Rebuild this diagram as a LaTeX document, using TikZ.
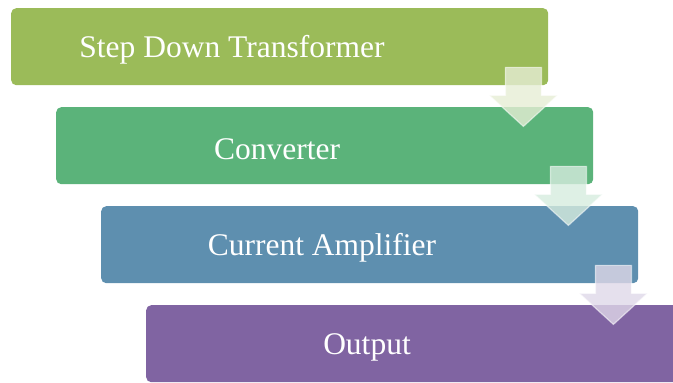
\documentclass[tikz,border=0pt]{standalone}
\usepackage{fontspec}
\setmainfont{Liberation Serif}
\usetikzlibrary{calc}
\definecolor{stepA}{HTML}{9BBB59}
\definecolor{stepB}{HTML}{5BB37A}
\definecolor{stepC}{HTML}{5E8FAF}
\definecolor{stepD}{HTML}{8064A2}
\tikzset{
  stagebox/.style={draw=none, rounded corners=5pt, minimum width=537pt,
    minimum height=77pt, inner sep=0pt, anchor=north west},
  stagetext/.style={text=white, font=\fontsize{31.5}{36}\selectfont, anchor=center},
  flowarrow/.style={fill=#1, fill opacity=0.8, draw=white, draw opacity=0.55, line width=1.2pt}
}
% downward block arrow; #1 = top centre of the shaft, #2 = tint
\newcommand\blockarrow[2]{%
  \path[flowarrow=#2] ($(#1)+(-18pt,0)$) -- ++(36pt,0) -- ++(0,-28pt) -- ++(16pt,0)
    -- ++(-34pt,-31pt) -- ++(-34pt,31pt) -- ++(16pt,0) -- cycle;}
\begin{document}
\begin{tikzpicture}[x=1pt,y=1pt]
  \useasboundingbox (0,0) rectangle (673,383);
  \clip (0,0) rectangle (673,383);
  \node[stagebox, fill=stepA] (b1) at (11,375) {};
  \node[stagebox, fill=stepB] (b2) at (56,276) {};
  \node[stagebox, fill=stepC] (b3) at (101,177) {};
  \node[stagebox, fill=stepD] (b4) at (146,78) {};
  \foreach \b/\t in {b1/Step Down Transformer, b2/Converter, b3/Current Amplifier, b4/Output}
    \node[stagetext] (\b t) at ($(\b.west)+(221,-3.5)$) {\t};
  \coordinate (a1) at ($(b1.south east)+(-25,18)$);
  \coordinate (a2) at ($(b2.south east)+(-25,18)$);
  \coordinate (a3) at ($(b3.south east)+(-25,18)$);
  \blockarrow{a1}{stepA!25!white}
  \blockarrow{a2}{stepB!25!white}
  \blockarrow{a3}{stepD!25!white}
\end{tikzpicture}
\end{document}
